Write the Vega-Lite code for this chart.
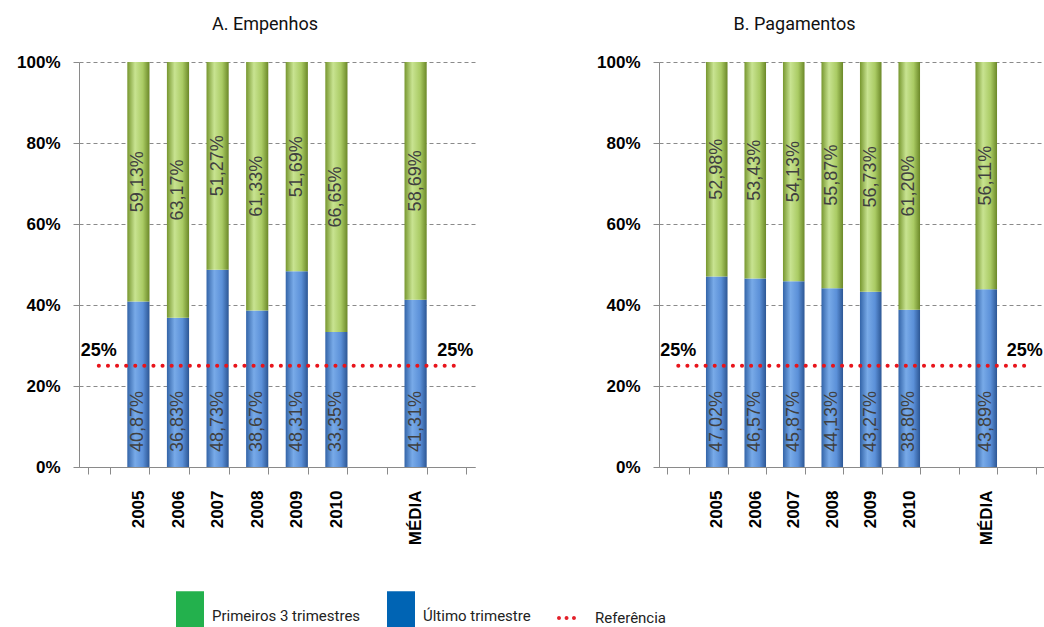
{
  "$schema": "https://vega.github.io/schema/vega-lite/v6.json",
  "padding": {"left": 16, "top": 16, "right": 0, "bottom": 0},
  "datasets": {
    "empenhos": [
      {"cat": "2005", "s": "Último trimestre", "v": 0.4087},
      {"cat": "2005", "s": "Primeiros 3 trimestres", "v": 0.5913},
      {"cat": "2006", "s": "Último trimestre", "v": 0.3683},
      {"cat": "2006", "s": "Primeiros 3 trimestres", "v": 0.6317},
      {"cat": "2007", "s": "Último trimestre", "v": 0.4873},
      {"cat": "2007", "s": "Primeiros 3 trimestres", "v": 0.5127},
      {"cat": "2008", "s": "Último trimestre", "v": 0.3867},
      {"cat": "2008", "s": "Primeiros 3 trimestres", "v": 0.6133},
      {"cat": "2009", "s": "Último trimestre", "v": 0.4831},
      {"cat": "2009", "s": "Primeiros 3 trimestres", "v": 0.5169},
      {"cat": "2010", "s": "Último trimestre", "v": 0.3335},
      {"cat": "2010", "s": "Primeiros 3 trimestres", "v": 0.6665},
      {"cat": "MÉDIA", "s": "Último trimestre", "v": 0.4131},
      {"cat": "MÉDIA", "s": "Primeiros 3 trimestres", "v": 0.5869}
    ],
    "pagamentos": [
      {"cat": "2005", "s": "Último trimestre", "v": 0.4702},
      {"cat": "2005", "s": "Primeiros 3 trimestres", "v": 0.5298},
      {"cat": "2006", "s": "Último trimestre", "v": 0.4657},
      {"cat": "2006", "s": "Primeiros 3 trimestres", "v": 0.5343},
      {"cat": "2007", "s": "Último trimestre", "v": 0.4587},
      {"cat": "2007", "s": "Primeiros 3 trimestres", "v": 0.5413},
      {"cat": "2008", "s": "Último trimestre", "v": 0.4413},
      {"cat": "2008", "s": "Primeiros 3 trimestres", "v": 0.5587},
      {"cat": "2009", "s": "Último trimestre", "v": 0.4327},
      {"cat": "2009", "s": "Primeiros 3 trimestres", "v": 0.5673},
      {"cat": "2010", "s": "Último trimestre", "v": 0.388},
      {"cat": "2010", "s": "Primeiros 3 trimestres", "v": 0.612},
      {"cat": "MÉDIA", "s": "Último trimestre", "v": 0.4389},
      {"cat": "MÉDIA", "s": "Primeiros 3 trimestres", "v": 0.5611}
    ],
    "ref": [
      {"cat": "e1", "ref": 0.25},
      {"cat": "e3", "ref": 0.25}
    ],
    "legenda": [
      {"s": "Primeiros 3 trimestres"},
      {"s": "Último trimestre"},
      {"s": "Referência"}
    ]
  },
  "spacing": 121,
  "hconcat": [
    {
      "width": 396,
      "height": 405,
      "title": {"text": "A. Empenhos", "dx": -12},
      "layer": [
        {
          "data": {"name": "legenda"},
          "mark": {"type": "point", "filled": true, "size": 20, "opacity": 1},
          "encoding": {
            "x": {"datum": "2005", "type": "nominal"},
            "y": {"datum": 0.5, "type": "quantitative"},
            "color": {
              "field": "s", "type": "nominal",
              "scale": {"domain": ["Primeiros 3 trimestres", "Último trimestre", "Referência"], "range": ["#23b14d", "#0064b4", "#e3202a"]},
              "legend": {"title": null, "orient": "none", "legendX": 97, "legendY": 540, "direction": "horizontal", "symbolSize": 784, "symbolStrokeWidth": 0, "symbolOpacity": 1, "labelFont": "Roboto", "labelFontSize": 15, "labelColor": "#222", "labelOffset": 8, "columnPadding": 26, "labelLimit": 300}
            },
            "shape": {
              "field": "s", "type": "nominal",
              "scale": {"domain": ["Primeiros 3 trimestres", "Último trimestre", "Referência"], "range": ["M-1,-1.8H1V0.8H-1Z", "M-1,-1.8H1V0.8H-1Z", "M-1.14,0a0.14,0.14 0 1,0 0.28,0a0.14,0.14 0 1,0 -0.28,0ZM-0.6,0a0.14,0.14 0 1,0 0.28,0a0.14,0.14 0 1,0 -0.28,0ZM-0.07,0a0.14,0.14 0 1,0 0.28,0a0.14,0.14 0 1,0 -0.28,0Z"]},
              "legend": {"title": null, "orient": "none", "legendX": 97, "legendY": 540, "direction": "horizontal", "symbolSize": 784, "symbolStrokeWidth": 0, "symbolOpacity": 1, "labelFont": "Roboto", "labelFontSize": 15, "labelColor": "#222", "labelOffset": 8, "columnPadding": 26, "labelLimit": 300}
            }
          }
        },
        {
          "data": {"name": "empenhos"},
          "mark": {"type": "bar"},
          "encoding": {
            "x": {"field": "cat", "type": "nominal", "sort": null, "title": null,
              "scale": {"domain": ["e1", "2005", "2006", "2007", "2008", "2009", "2010", "e2", "MÉDIA", "e3"], "paddingInner": 0.44, "paddingOuter": 0.22},
              "axis": {"labelExpr": "length(datum.label) == 2 ? '' : datum.label", "labelAngle": 270, "tickBand": "extent"}},
            "y": {"field": "v", "type": "quantitative", "stack": "zero", "title": null, "scale": {"domain": [0, 1]}, "axis": {"format": ".0%", "values": [0, 0.2, 0.4, 0.6, 0.8, 1]}},
            "detail": {"field": "s", "type": "nominal"},
            "order": {"field": "s", "type": "nominal", "sort": "descending"},
            "fill": {
              "condition": {"test": "datum.s == 'Último trimestre'", "value": {"gradient": "linear", "x1": 0, "y1": 0, "x2": 1, "y2": 0, "stops": [{"offset": 0, "color": "#3364a8"}, {"offset": 0.35, "color": "#78aae8"}, {"offset": 0.7, "color": "#5b90d8"}, {"offset": 1, "color": "#2c5694"}]}},
              "value": {"gradient": "linear", "x1": 0, "y1": 0, "x2": 1, "y2": 0, "stops": [{"offset": 0, "color": "#77972f"}, {"offset": 0.35, "color": "#c8e391"}, {"offset": 0.7, "color": "#aacb64"}, {"offset": 1, "color": "#6b8828"}]}
            }
          }
        },
        {
          "data": {"name": "empenhos"},
          "mark": {"type": "text", "angle": 270, "align": "center", "baseline": "middle", "fontSize": 18, "color": "#404040"},
          "encoding": {
            "x": {"field": "cat", "type": "nominal", "sort": null},
            "y": {"field": "v", "type": "quantitative", "stack": "zero", "bandPosition": 0.5},
            "detail": {"field": "s", "type": "nominal"},
            "order": {"field": "s", "type": "nominal", "sort": "descending"},
            "text": {"field": "v", "type": "quantitative", "format": ".2%", "condition": {"test": "datum.s == 'Último trimestre'", "value": ""}}
          }
        },
        {
          "data": {"name": "empenhos"},
          "transform": [{"filter": "datum.s == 'Último trimestre'"}],
          "mark": {"type": "text", "angle": 270, "align": "left", "baseline": "middle", "fontSize": 18, "color": "#404040"},
          "encoding": {
            "x": {"field": "cat", "type": "nominal", "sort": null},
            "y": {"datum": 0.037, "type": "quantitative"},
            "text": {"field": "v", "type": "quantitative", "format": ".2%"}
          }
        },
        {
          "data": {"name": "ref"},
          "mark": {"type": "line", "color": "#e8141b", "strokeWidth": 4, "strokeCap": "round", "strokeDash": [0.1, 9]},
          "encoding": {
            "x": {"field": "cat", "type": "nominal", "sort": null},
            "y": {"field": "ref", "type": "quantitative"}
          }
        },
        {
          "data": {"name": "ref"},
          "mark": {"type": "text", "fontSize": 18, "fontWeight": "bold", "dy": -15, "color": "#000"},
          "encoding": {
            "x": {"field": "cat", "type": "nominal", "sort": null},
            "y": {"field": "ref", "type": "quantitative"},
            "text": {"field": "ref", "type": "quantitative", "format": ".0%"}
          }
        }
      ]
    },
    {
      "width": 385,
      "height": 405,
      "title": {"text": "B. Pagamentos", "dx": -57},
      "layer": [
        {
          "data": {"name": "pagamentos"},
          "mark": {"type": "bar"},
          "encoding": {
            "x": {"field": "cat", "type": "nominal", "sort": null, "title": null,
              "scale": {"domain": ["e1", "2005", "2006", "2007", "2008", "2009", "2010", "e2", "MÉDIA", "e3"], "paddingInner": 0.44, "paddingOuter": 0.22},
              "axis": {"labelExpr": "length(datum.label) == 2 ? '' : datum.label", "labelAngle": 270, "tickBand": "extent"}},
            "y": {"field": "v", "type": "quantitative", "stack": "zero", "title": null, "scale": {"domain": [0, 1]}, "axis": {"format": ".0%", "values": [0, 0.2, 0.4, 0.6, 0.8, 1]}},
            "detail": {"field": "s", "type": "nominal"},
            "order": {"field": "s", "type": "nominal", "sort": "descending"},
            "fill": {
              "condition": {"test": "datum.s == 'Último trimestre'", "value": {"gradient": "linear", "x1": 0, "y1": 0, "x2": 1, "y2": 0, "stops": [{"offset": 0, "color": "#3364a8"}, {"offset": 0.35, "color": "#78aae8"}, {"offset": 0.7, "color": "#5b90d8"}, {"offset": 1, "color": "#2c5694"}]}},
              "value": {"gradient": "linear", "x1": 0, "y1": 0, "x2": 1, "y2": 0, "stops": [{"offset": 0, "color": "#77972f"}, {"offset": 0.35, "color": "#c8e391"}, {"offset": 0.7, "color": "#aacb64"}, {"offset": 1, "color": "#6b8828"}]}
            }
          }
        },
        {
          "data": {"name": "pagamentos"},
          "mark": {"type": "text", "angle": 270, "align": "center", "baseline": "middle", "fontSize": 18, "color": "#404040"},
          "encoding": {
            "x": {"field": "cat", "type": "nominal", "sort": null},
            "y": {"field": "v", "type": "quantitative", "stack": "zero", "bandPosition": 0.5},
            "detail": {"field": "s", "type": "nominal"},
            "order": {"field": "s", "type": "nominal", "sort": "descending"},
            "text": {"field": "v", "type": "quantitative", "format": ".2%", "condition": {"test": "datum.s == 'Último trimestre'", "value": ""}}
          }
        },
        {
          "data": {"name": "pagamentos"},
          "transform": [{"filter": "datum.s == 'Último trimestre'"}],
          "mark": {"type": "text", "angle": 270, "align": "left", "baseline": "middle", "fontSize": 18, "color": "#404040"},
          "encoding": {
            "x": {"field": "cat", "type": "nominal", "sort": null},
            "y": {"datum": 0.037, "type": "quantitative"},
            "text": {"field": "v", "type": "quantitative", "format": ".2%"}
          }
        },
        {
          "data": {"name": "ref"},
          "mark": {"type": "line", "color": "#e8141b", "strokeWidth": 4, "strokeCap": "round", "strokeDash": [0.1, 9]},
          "encoding": {
            "x": {"field": "cat", "type": "nominal", "sort": null},
            "y": {"field": "ref", "type": "quantitative"}
          }
        },
        {
          "data": {"name": "ref"},
          "mark": {"type": "text", "fontSize": 18, "fontWeight": "bold", "dy": -15, "color": "#000"},
          "encoding": {
            "x": {"field": "cat", "type": "nominal", "sort": null},
            "y": {"field": "ref", "type": "quantitative"},
            "text": {"field": "ref", "type": "quantitative", "format": ".0%"}
          }
        }
      ]
    }
  ],
  "config": {
    "view": {"stroke": null},
    "font": "Liberation Sans",
    "locale": {"number": {"decimal": ",", "thousands": ".", "grouping": [3], "currency": ["R$", ""]}},
    "title": {"font": "Roboto", "fontSize": 18, "fontWeight": "normal", "color": "#111", "offset": 19, "anchor": "middle"},
    "axis": {"labelFont": "Liberation Sans", "labelFontWeight": "bold", "labelFontSize": 17, "labelColor": "#000", "domainColor": "#8a8a8a", "tickColor": "#8a8a8a", "gridColor": "#8a8a8a", "gridDash": [4, 3]},
    "axisY": {"labelPadding": 13, "tickSize": 6, "grid": true},
    "axisX": {"labelPadding": 16, "tickSize": 7, "grid": false}
  }
}
